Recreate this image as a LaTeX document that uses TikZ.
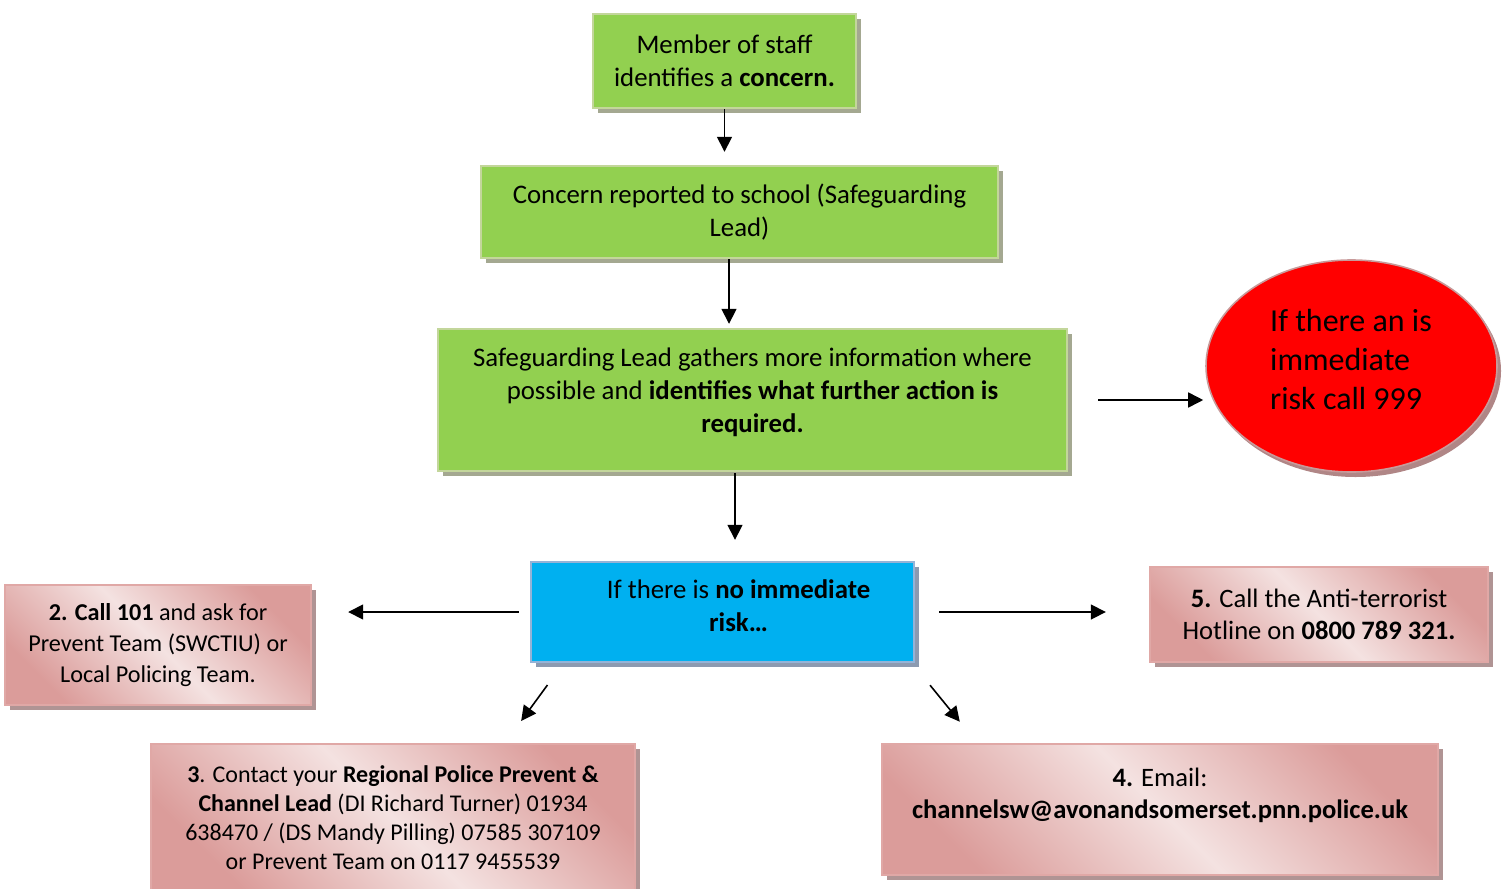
\documentclass[tikz,border=0pt]{standalone}
\usepackage{fontspec}
\setmainfont{Carlito}
\usetikzlibrary{shadows,arrows.meta,shapes.geometric}

\definecolor{staffgreen}{HTML}{92D050}
\definecolor{greenrim}{HTML}{C3D69B}
\definecolor{greenshade}{HTML}{A4A891}
\definecolor{riskblue}{HTML}{00B0F0}
\definecolor{bluerim}{HTML}{95B3D7}
\definecolor{blueshade}{HTML}{8C9AB0}
\definecolor{pinklight}{HTML}{F4E2E1}
\definecolor{pinkdark}{HTML}{DB9C9A}
\definecolor{pinkrim}{HTML}{E0A8A6}
\definecolor{pinkshade}{HTML}{B09494}
\definecolor{alarmred}{HTML}{FF0000}
\definecolor{alarmrim}{HTML}{C89A9A}
\definecolor{alarmshade}{HTML}{B08686}

\tikzset{
  greenbox/.style={draw=greenrim, line width=1.2pt, fill=staffgreen, align=center,
    inner sep=0pt, font=\fontsize{13.4}{16.5}\selectfont,
    drop shadow={shadow xshift=2.5pt, shadow yshift=-2.5pt, fill=greenshade, opacity=1}},
  bluebox/.style={draw=bluerim, line width=1.2pt, fill=riskblue, inner sep=0pt,
    drop shadow={shadow xshift=2.5pt, shadow yshift=-2.5pt, fill=blueshade, opacity=1}},
  pinkbox/.style={draw=pinkrim, line width=1.2pt, align=center, inner sep=0pt,
    top color=pinkdark, bottom color=pinkdark, middle color=pinklight, shading angle=-45,
    font=\fontsize{13.3}{16}\selectfont,
    drop shadow={shadow xshift=2.5pt, shadow yshift=-2.5pt, fill=pinkshade, opacity=1}},
  alarm/.style={ellipse, draw=alarmrim, line width=0.8pt, fill=alarmred, inner sep=0pt,
    drop shadow={shadow xshift=2pt, shadow yshift=-2.5pt, fill=alarmshade, opacity=1}},
  boxtext/.style={align=center, font=\fontsize{13.4}{16.5}\selectfont},
  flow/.style={-{Triangle[length=7.5pt,width=7.5pt]}, line width=0.8pt}
}

\begin{document}
\begin{tikzpicture}[x=0.5pt, y=-0.5pt]
\useasboundingbox (0,0) rectangle (1507,888);

% main column
\node[greenbox, minimum width=131.5pt, minimum height=47pt] (staff) at (724.5,61)
  {Member of staff\\identifies a \textbf{concern.}};
\node[greenbox, minimum width=258.5pt, minimum height=46pt] (report) at (739.5,212)
  {Concern reported to school (Safeguarding\\Lead)};
\node[greenbox, minimum width=314.5pt, minimum height=71pt] (gather) at (752.5,400) {};
\node[boxtext] (gatherText) at (752.5,392)
  {Safeguarding Lead gathers more information where\\possible and \textbf{identifies what further action is}\\\textbf{required.}};
\node[alarm, minimum width=145.5pt, minimum height=106pt] (risk) at (1351.5,366) {};
\node[align=left, font=\fontsize{16}{19.5}\selectfont] (riskText) at (1351,360)
  {If there an is\\immediate\\risk call 999};

% no immediate risk
\node[bluebox, minimum width=191.5pt, minimum height=50pt] (blue) at (722.5,612) {};
\node[boxtext] (blueText) at (738.5,606)
  {If there is \textbf{no immediate}\\\textbf{risk\dots}};

% contacts
\node[pinkbox, minimum width=153pt, minimum height=60pt, font=\fontsize{12.1}{15.5}\selectfont] (call) at (158,645)
  {\textbf{2. Call 101} and ask for\\Prevent Team (SWCTIU) or\\Local Policing Team.};
\node[pinkbox, minimum width=242pt, minimum height=74pt, font=\fontsize{12}{14.5}\selectfont] (regional) at (393,818)
  {\textbf{3}. Contact your \textbf{Regional Police Prevent \&}\\\textbf{Channel Lead} (DI Richard Turner) 01934\\638470 / (DS Mandy Pilling) 07585 307109\\or Prevent Team on 0117 9455539};
\node[pinkbox, minimum width=278pt, minimum height=65.5pt] (email) at (1160,809.5)
  {\textbf{4.} Email:\\\textbf{channelsw@avonandsomerset.pnn.police.uk}\\~};
\node[pinkbox, minimum width=169pt, minimum height=47.5pt] (hotline) at (1319,614.5)
  {\textbf{5.} Call the Anti-terrorist\\Hotline on \textbf{0800 789 321.}};

% connectors
\draw[flow, shorten >=6.5pt] (staff.south) -- (staff.south |- report.north);
\draw[flow, shorten >=2pt] ([xshift=-5.25pt]report.south) -- ([xshift=-5.25pt]report.south |- gather.north);
\draw[flow, shorten <=0.5pt, shorten >=10.5pt] ([xshift=-8.75pt]gather.south) -- ([xshift=-8.75pt]gather.south |- blue.north);
\draw[flow, shorten <=15pt, shorten >=1pt] (gather.east) -- (gather.east -| risk.west);
\draw[flow, shorten <=5.5pt, shorten >=18pt] (blue.west) -- (blue.west -| call.east);
\draw[flow, shorten <=12pt, shorten >=21.5pt] (blue.east) -- (blue.east -| hotline.west);
\draw[flow, shorten <=13.5pt, shorten >=13.5pt] ([xshift=16.8pt]blue.south west) -- ([xshift=177.7pt]regional.north west);
\draw[flow, shorten <=14.2pt, shorten >=13.6pt] ([xshift=-1.55pt]blue.south east) -- ([xshift=48.1pt]email.north west);
\end{tikzpicture}
\end{document}
